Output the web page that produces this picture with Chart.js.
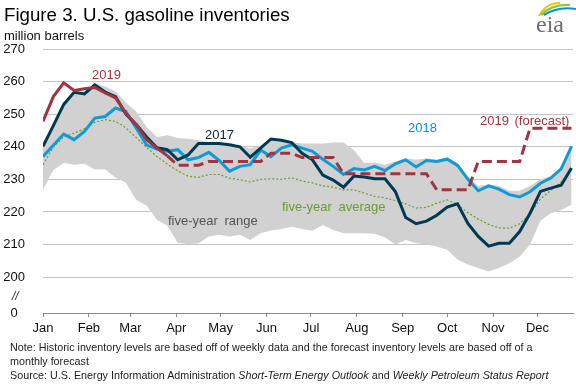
<!DOCTYPE html>
<html>
<head>
<meta charset="utf-8">
<script src="https://cdn.jsdelivr.net/npm/chart.js@4.4.1/dist/chart.umd.min.js"></script>
<style>
  body { margin: 0; background: #fff; }
  #wrap { position: relative; width: 576px; height: 384px; font-family: "Liberation Sans", Arial, sans-serif; color: #1a1a1a; }
  #wrap canvas { position: absolute; left: 0; top: 0; }
  .t { position: absolute; white-space: nowrap; line-height: 1; }
  .note { position: absolute; left: 10px; top: 340px; font-size: 10.75px; line-height: 14px; color: #222; white-space: nowrap; }
</style>
</head>
<body>
<div id="wrap">
  <canvas id="myChart" width="576" height="384"></canvas>

  <div class="t" style="left:4px;top:6px;font-size:18.7px;color:#000">Figure 3. U.S. gasoline inventories</div>
  <div class="t" style="left:4px;top:29px;font-size:13px;color:#111">million barrels</div>

  <!-- series labels -->
  <div class="t" style="left:92px;top:68px;font-size:13px;color:#a33340">2019</div>
  <div class="t" style="left:205px;top:128px;font-size:13px;color:#0b2233">2017</div>
  <div class="t" style="left:408px;top:121px;font-size:13px;color:#0096d7">2018</div>
  <div class="t" style="left:480px;top:114px;font-size:13px;color:#a33340;word-spacing:2px">2019 (forecast)</div>
  <div class="t" style="left:168px;top:214px;font-size:13px;color:#555;word-spacing:3px">five-year range</div>
  <div class="t" style="left:282px;top:200px;font-size:13px;color:#6a9d33;word-spacing:3px">five-year average</div>
  <div class="t" style="left:12px;top:290px;font-size:12px;color:#333;font-style:italic">//</div>

  <div class="note">Note: Historic inventory levels are based off of weekly data and the forecast inventory levels are based off of a<br>monthly forecast<br>Source: U.S. Energy Information Administration <i>Short-Term Energy Outlook</i> and <i>Weekly Petroleum Status Report</i></div>

  <!-- eia logo -->
  <svg style="position:absolute;left:530px;top:0" width="46" height="40" viewBox="0 0 46 40">
    <path d="M9 16 Q16 3 30 3" stroke="#f2c500" stroke-width="2.2" fill="none"/>
    <path d="M11 15 Q22 4 40 5" stroke="#8dc63f" stroke-width="2.2" fill="none"/>
    <path d="M14 15 Q28 6 46 9" stroke="#0096d7" stroke-width="2.2" fill="none"/>
    <text x="6" y="32" font-family="'Liberation Serif','DejaVu Serif',serif" font-size="24" fill="#6d6e71">eia</text>
  </svg>
</div>

<script>
/*** data (weekly, week 0 = first week of January) ***/
const months = ["Jan", "Feb", "Mar", "Apr", "May", "Jun", "Jul", "Aug", "Sep", "Oct", "Nov", "Dec"];
const monthStartDays = [0, 31, 59, 90, 120, 151, 181, 212, 243, 273, 304, 334];
const yTicks = [200, 210, 220, 230, 240, 250, 260, 270];
const axisBreak = 189; // shown as "0"

const inv2017 = [240.1, 246.5, 253, 256.7, 256.2, 259, 256.8, 255.4, 250, 246.8,
  243, 239.7, 239.1, 236, 237.5, 241, 241, 241, 240.6, 240,
  236.8, 239.6, 242.4, 242, 241.3, 238, 236, 231.3, 229.8, 227.6,
  231, 230.7, 230.2, 230.2, 226.3, 218.3, 216.4, 217.2, 219, 221.5,
  222.5, 216.5, 212.5, 209.5, 210.4, 210.4, 214, 219.6, 226.3, 227.3,
  228.2, 233.5];

const inv2018 = [237, 240.5, 243.9, 242.2, 244.7, 248.8, 249.3, 251.9, 250.8, 245.7,
  240.5, 239.3, 238.6, 239.1, 236, 236.7, 238.3, 235.8, 232.5, 234,
  234.5, 239, 237, 239.6, 240.6, 239.6, 238.6, 236.2, 234, 231.5,
  233.3, 232.9, 234, 232.7, 234.8, 236, 233.8, 235.8, 235.5, 236.2,
  234.3, 230, 226.5, 228, 227, 225.3, 224.6, 226.2, 228.8, 230.4,
  233.2, 240.1];

const inv2019 = [247.8, 255.4, 259.6, 257.3, 257.8, 258.2, 256.5, 255, 250.3, 246.8,
  242.2, 239.6, 237.2];

const fc2019 = [null, null, null, null, null, null, null, null, null, null,
  null, null, 237.2, 234.3, 234.3, 234.3, 235.5, 235.5, 235.5, 235.5,
  235.5, 235.5, 238, 238, 238, 236.7, 236.7, 236.7, 236.7, 231.7,
  231.7, 231.7, 231.7, 231.7, 231.7, 231.7, 231.7, 231.7, 226.8, 226.8,
  226.8, 226.8, 235.5, 235.5, 235.5, 235.5, 235.5, 245.7, 245.7, 245.7,
  245.7, 245.7];

const avg5yr = [234.5, 240, 243, 244.2, 245.5, 247.5, 248.3, 247.8, 245.8, 242.8,
  239.8, 237, 234.7, 232.6, 231, 230.6, 231.5, 231.5, 230.4, 229.9,
  229.2, 230, 230.2, 230, 230.5, 229.5, 228.9, 228, 227.6, 226.8,
  226.8, 225.8, 224.8, 224.3, 223.5, 222.5, 221.2, 221.4, 222.7, 223.7,
  222.3, 219.8, 217.8, 216.2, 215.1, 215, 216.4, 219.4, 224, 226.6,
  229.2, 233];

const rangeHigh = [240.8, 246.8, 253.3, 257, 257, 259.5, 258.5, 257, 253.5, 250.8,
  246, 243, 243.5, 242.7, 242.5, 242, 241.5, 241.2, 240.8, 240.3,
  239.5, 240.5, 242.6, 242.2, 241.5, 241, 241, 241, 241.3, 241.3,
  239, 235, 235.2, 234.5, 235.5, 236.5, 236, 236.5, 236, 236.8,
  235, 231, 228, 228.5, 228, 226.5, 226.5, 228, 230, 231,
  233.5, 240.3];

const rangeLow = [226.8, 232.9, 235, 234.5, 234.8, 233, 233.1, 230.5, 229, 223.7,
  222, 217.6, 215.8, 210.5, 210.2, 210.3, 212.5, 213, 212.5, 213,
  211.4, 213.5, 214.3, 214.8, 215.5, 214.8, 214.2, 216, 214.5, 213.5,
  213.5, 213.5, 213.3, 212.2, 210, 211.4, 210.4, 210, 209.4, 208.4,
  205.3, 203.9, 202.8, 201.7, 202.8, 204.3, 206.3, 210, 217.3, 219.6,
  220.6, 222.2];

// x position of each weekly value, in days from Jan 1
const pts = arr => arr.map((v, i) => ({ x: i * 7, y: v }));

Chart.defaults.font.family = '"Liberation Sans", Arial, sans-serif';
Chart.defaults.font.size = 13;
Chart.defaults.color = "#1a1a1a";

var ctx = document.getElementById("myChart").getContext("2d");
var chart = new Chart(ctx, {
  type: "line",
  data: {
    datasets: [
      { label: "2019", data: pts(inv2019), borderColor: "#a33340", borderWidth: 3, pointRadius: 0, fill: false },
      { label: "2019 (forecast)", data: pts(fc2019), borderColor: "#a33340", borderWidth: 3, borderDash: [10, 5], pointRadius: 0, fill: false },
      { label: "2017", data: pts(inv2017), borderColor: "#003953", borderWidth: 3, pointRadius: 0, fill: false },
      { label: "2018", data: pts(inv2018), borderColor: "#0f9bd7", borderWidth: 3, pointRadius: 0, fill: false },
      { label: "five-year average", data: pts(avg5yr), borderColor: "#6a9d33", borderWidth: 1.2, borderDash: [2, 2], pointRadius: 0, fill: false },
      { label: "range high", data: pts(rangeHigh), borderWidth: 0, borderColor: "rgba(0,0,0,0)", pointRadius: 0, fill: false },
      { label: "range low", data: pts(rangeLow), borderWidth: 0, borderColor: "rgba(0,0,0,0)", backgroundColor: "#d1d1d1", pointRadius: 0, fill: "-1" },
    ],
  },
  options: {
    responsive: false,
    animation: false,
    layout: { padding: { top: 49, right: 3, left: 0, bottom: 0 } },
    plugins: { legend: { display: false }, tooltip: { enabled: false } },
    scales: {
      x: {
        type: "linear",
        min: 0,
        max: 358,
        afterBuildTicks: s => { s.ticks = monthStartDays.map(d => ({ value: d })); },
        afterFit: s => { s.height = 71; },
        ticks: { autoSkip: false, maxRotation: 0, padding: 4, color: "#111", callback: (v, i) => months[i] },
        grid: { drawOnChartArea: false, tickLength: 4, color: "#888" },
        border: { color: "#888" },
      },
      y: {
        min: axisBreak,
        max: 270,
        afterBuildTicks: s => { s.ticks = [axisBreak].concat(yTicks).map(v => ({ value: v })); },
        afterFit: s => { s.width = 43; },
        ticks: { crossAlign: "center", padding: 18, color: "#111", callback: v => (v === axisBreak ? "0" : v) },
        grid: { drawTicks: false, color: c => (c.tick && c.tick.value === axisBreak ? "rgba(0,0,0,0)" : "#c4c4c4") },
        border: { display: false },
      },
    },
  },
});
</script>
</body>
</html>
